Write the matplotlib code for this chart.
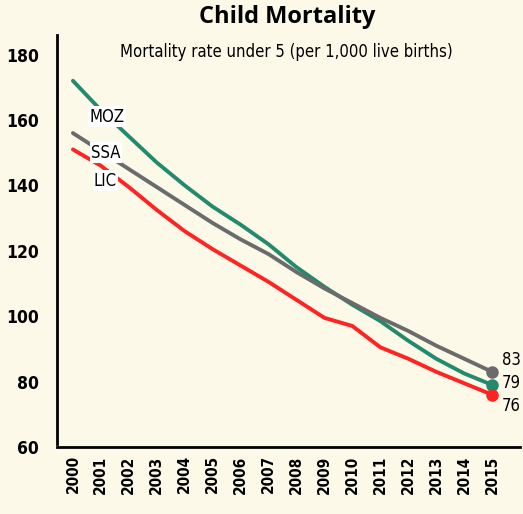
import matplotlib

matplotlib.use("Agg")

import matplotlib.pyplot as plt

years = list(range(2000, 2016))
moz = [172, 163, 155, 147, 140, 133.5, 128, 122, 115, 109, 103.5, 98.5, 92.5, 87, 82.5, 79]
ssa = [156, 150.5, 145, 139.5, 134, 128.5, 123.5, 119, 113.5, 108.5, 104, 99.5, 95.5, 91, 87, 83]
lic = [151, 146, 139.5, 132.5, 126, 120.5, 115.5, 110.5, 105, 99.5, 97, 90.5, 87, 83, 79.5, 76]
end_labels = ["83", "79", "76"]

BG = "#fdf9e9"
plt.rcParams["font.family"] = ["DejaVu Sans"]
plt.rcParams["font.stretch"] = "condensed"

fig = plt.figure(figsize=(5.23, 5.14), dpi=100)
fig.patch.set_facecolor(BG)
ax = fig.add_axes([57 / 523, 1 - 447 / 514, (520 - 57) / 523, (447 - 35) / 514])
ax.set_facecolor(BG)

series = [
    ("MOZ", moz, "#238a6c"),
    ("SSA", ssa, "#6b6b6b"),
    ("LIC", lic, "#ff2424"),
]
for name, vals, color in series:
    ax.plot(years, vals, color=color, lw=2.8, solid_capstyle="round",
            solid_joinstyle="round", zorder=3)
    ax.plot(years[-1], vals[-1], "o", color=color, ms=8, zorder=4)

# series names with white boxes
name_pos = {"MOZ": (2000.6, 161), "SSA": (2000.65, 150), "LIC": (2000.75, 141.5)}
for name, vals, color in series:
    x, y = name_pos[name]
    ax.text(x, y, name, fontsize=12, ha="left", va="center", zorder=5,
            bbox=dict(facecolor="white", edgecolor="none", pad=1.0))

# end value labels
for lbl, y in zip(end_labels, [86.5, 79.5, 72.5]):
    ax.text(2015.35, y, lbl, fontsize=12, ha="left", va="center")

ax.set_xlim(1999.43, 2016.0)
ax.set_ylim(61, 186)
ax.set_yticks([60, 80, 100, 120, 140, 160, 180])
ax.set_xticks(years)
ax.set_xticklabels([str(y) for y in years], rotation=90, fontsize=11, fontweight="bold")
for lab in ax.get_yticklabels():
    lab.set_fontsize(12.5)
    lab.set_fontweight("bold")
ax.tick_params(length=0, pad=6)
ax.tick_params(axis="y", pad=13)
for side in ["top", "right"]:
    ax.spines[side].set_visible(False)
for side in ["left", "bottom"]:
    ax.spines[side].set_linewidth(2)
ax.spines["left"].set_bounds(61, 186)

fig.text(287 / 523, 1 - 17 / 514, "Child Mortality", fontsize=17, fontweight="bold",
         ha="center", va="center", family=["Open Sans", "DejaVu Sans"], stretch="normal")
fig.text(286 / 523, 1 - 52 / 514, "Mortality rate under 5 (per 1,000 live births)",
         fontsize=12, ha="center", va="center")

fig.savefig("out.png", dpi=100, facecolor=BG)
